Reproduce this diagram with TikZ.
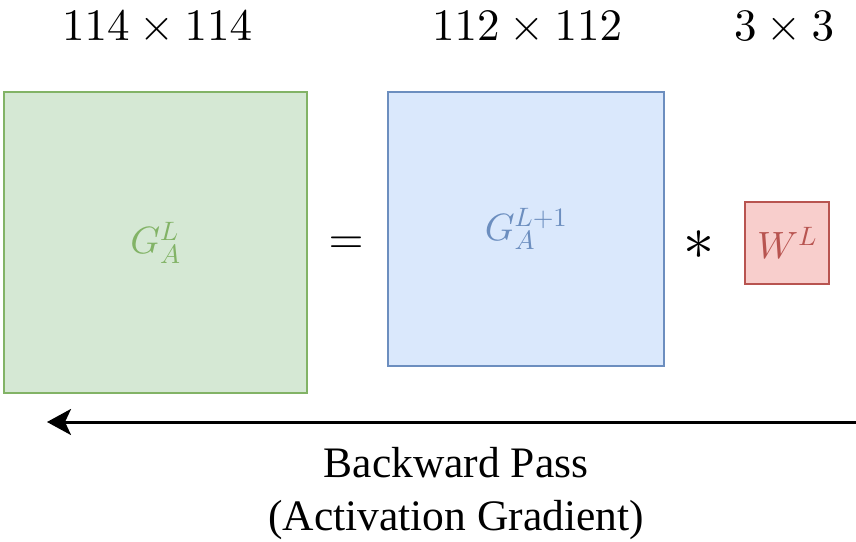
\documentclass[tikz,border=0pt]{standalone}
\usepackage[no-math]{fontspec}
\newfontfamily\captionfont{Liberation Serif}
\usetikzlibrary{arrows.meta}

% scale the 10pt design of the math fonts to every size
\DeclareFontShape{OT1}{cmr}{m}{n}{<->cmr10}{}
\DeclareFontShape{OML}{cmm}{m}{it}{<->cmmi10}{}
\DeclareFontShape{OMS}{cmsy}{m}{n}{<->cmsy10}{}

\definecolor{gfill}{HTML}{D5E8D4}
\definecolor{gline}{HTML}{82B366}
\definecolor{bfill}{HTML}{DAE8FC}
\definecolor{bline}{HTML}{6C8EBF}
\definecolor{rfill}{HTML}{F8CECC}
\definecolor{rline}{HTML}{B85450}

\tikzset{
  tensorbox/.style={draw, line width=2pt, inner sep=0pt, outer sep=0pt,
    font=\fontsize{38}{46}\selectfont},
  gradbox/.style={tensorbox, fill=gfill, draw=gline, text=gline},
  upbox/.style={tensorbox, fill=bfill, draw=bline, text=bline},
  kernelbox/.style={tensorbox, fill=rfill, draw=rline, text=rline},
  dimlabel/.style={anchor=base, inner sep=0pt, font=\fontsize{45}{54}\selectfont},
  opsym/.style={anchor=base, inner sep=0pt, font=\fontsize{45}{54}\selectfont},
  passlabel/.style={anchor=base, inner sep=0pt, font=\captionfont\fontsize{43.5}{52}\selectfont},
  passarrow/.style={line width=3pt, -{Stealth[length=24pt, width=26pt, inset=6pt]}}
}

\begin{document}
\begin{tikzpicture}[x=1pt, y=-1pt]
  \useasboundingbox (0,0) rectangle (856,541);

  % tensor sizes
  \node[dimlabel] (d1) at (157,40) {$114\times114$};
  \node[dimlabel] (d2) at (527,40) {$112\times112$};
  \node[dimlabel] (d3) at (784,40) {$3\times3$};

  % the three tensors
  \node[gradbox, minimum width=303pt, minimum height=301pt] (ga) at (155.5,242.5) {$G_A^L$};
  \node[upbox, minimum width=276pt, minimum height=274pt] (gb) at (526,229) {$G_A^{L+1}$};
  \node[kernelbox, minimum width=84pt, minimum height=82pt] (w) at (787,243) {$W^L$};

  % operators
  \node[opsym] (eq) at (346,253) {$=$};
  \node[opsym, font=\fontsize{62}{70}\selectfont] (conv) at (699,259) {$\ast$};

  % backward pass direction
  \coordinate (from) at (856,422);
  \coordinate (to) at (47,422);
  \draw[passarrow] (from) -- (to);

  \node[passlabel] (bp) at (456,477) {Backward Pass};
  \node[passlabel] (ag) at (456,530) {(Activation Gradient)};
\end{tikzpicture}
\end{document}
